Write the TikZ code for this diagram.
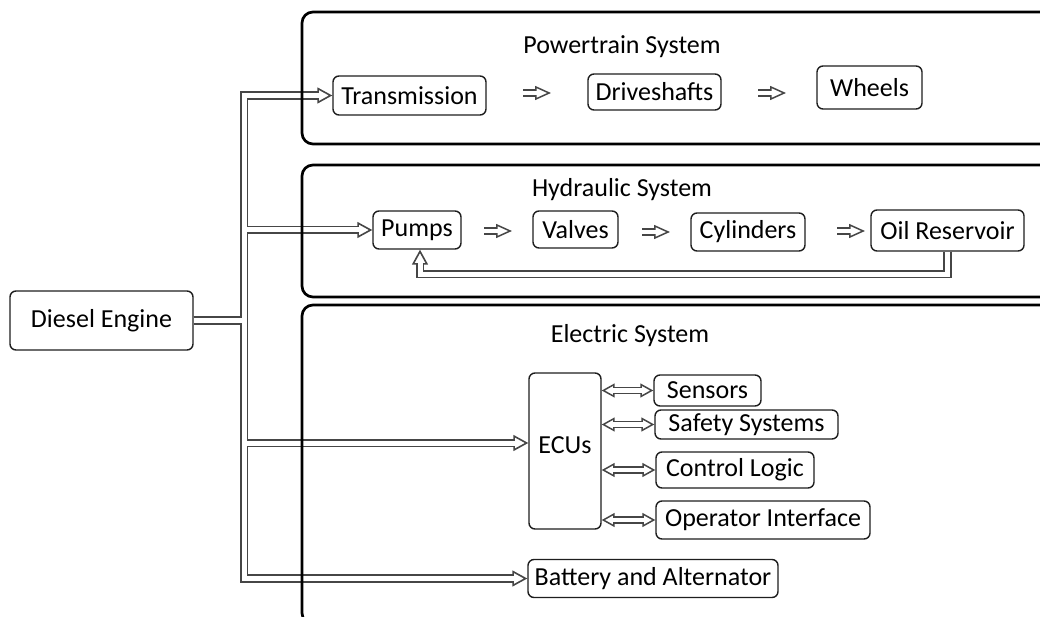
\documentclass[tikz,border=0pt]{standalone}
\usepackage{fontspec}
\setmainfont{Carlito}
\usetikzlibrary{arrows.meta}
\pgfdeclarelayer{pipes}
\pgfdeclarelayer{frames}
\pgfsetlayers{pipes,frames,main}
\definecolor{pipegray}{RGB}{70,70,70}
\definecolor{boxline}{RGB}{30,30,30}
\tikzset{
  blk/.style={draw=boxline, line width=1.4pt, rounded corners=6pt, fill=white, inner sep=0pt, align=center},
  frame/.style={draw=black, line width=2.7pt, rounded corners=11pt},
  ttl/.style={inner sep=0pt},
  bigtip/.tip={Triangle[open, fill=white, length=15pt, width=16pt, line width=1.6pt]},
  midtip/.tip={Triangle[open, fill=white, length=13pt, width=14pt, line width=1.5pt]},
  smtip/.tip={Triangle[open, fill=white, length=16pt, width=14pt, line width=1.5pt]},
  pipeO/.style={draw=pipegray, line width=8.4pt, -bigtip},
  pipeI/.style={draw=white, line width=5pt, shorten >=13pt},
  biO/.style={draw=pipegray, line width=7.4pt, midtip-midtip},
  biI/.style={draw=white, line width=4.2pt, shorten >=11pt, shorten <=11pt},
  smO/.style={draw=pipegray, line width=7.4pt, -smtip},
  smI/.style={draw=white, line width=4.2pt, shorten >=14pt},
}
\newcommand\mainpipes[1]{%
  \draw[#1] (engine.east) -- (tr) |- (trans.west);
  \draw[#1] (engine.east) -- (tr) |- (pumps.west);
  \draw[#1] (engine.east) -- (tr) |- ([yshift=8pt]ecus.west);
  \draw[#1] (engine.east) -- (tr) |- (battery.west);
  \draw[#1] (oil.south) -- ++(0,22.5) -| ([xshift=3pt]pumps.south);
}
\newcommand\ecupipes[1]{%
  \draw[#1] (ecus.east |- sensors.west) -- (sensors.west);
  \draw[#1] (ecus.east |- safety.west) -- (safety.west);
  \draw[#1] (ecus.east |- control.west) -- (control.west);
  \draw[#1] (ecus.east |- operator.west) -- (operator.west);
}
\newcommand\smallpipes[1]{%
  \draw[#1] ([xshift=-14pt]a1) -- ([xshift=14pt]a1);
  \draw[#1] ([xshift=-14pt]a2) -- ([xshift=14pt]a2);
  \draw[#1] ([xshift=-14pt]a3) -- ([xshift=14pt]a3);
  \draw[#1] ([xshift=-14pt]a4) -- ([xshift=14pt]a4);
  \draw[#1] ([xshift=-14pt]a5) -- ([xshift=14pt]a5);
}
\begin{document}
\begin{tikzpicture}[x=1pt,y=-1pt,font=\fontsize{26}{30}\selectfont]
\useasboundingbox (0,0) rectangle (1040,617);

% titles
\node[ttl] (tpow) at (622,47) {Powertrain System};
\node[ttl] (thyd) at (622,190) {Hydraulic System};
\node[ttl] (tele) at (630,336) {Electric System};

% blocks
\node[blk, minimum width=183pt, minimum height=59pt] (engine) at (101.5,320.5) {Diesel Engine};
\node[blk, minimum width=153pt, minimum height=39pt] (trans) at (409.5,95.5) {Transmission};
\node[blk, minimum width=133pt, minimum height=36pt] (drive) at (654.5,92) {Driveshafts};
\node[blk, minimum width=105pt, minimum height=43pt] (wheels) at (869.5,87.5) {Wheels};
\node[blk, minimum width=88pt, minimum height=38pt] (pumps) at (417,230) {Pumps};
\node[blk, minimum width=85pt, minimum height=37pt] (valves) at (575.5,229.5) {Valves};
\node[blk, minimum width=114pt, minimum height=38pt] (cyl) at (748,232) {Cylinders};
\node[blk, minimum width=153pt, minimum height=41pt] (oil) at (947.5,230.5) {Oil Reservoir};
\node[blk, minimum width=72pt, minimum height=156pt, text depth=12pt] (ecus) at (565,451) {ECUs};
\node[blk, minimum width=107pt, minimum height=31pt] (sensors) at (707.5,390.5) {Sensors};
\node[blk, minimum width=183pt, minimum height=29pt] (safety) at (746.5,424.5) {Safety Systems};
\node[blk, minimum width=158pt, minimum height=36pt] (control) at (735,470) {Control Logic};
\node[blk, minimum width=214pt, minimum height=38pt] (operator) at (763,520) {Operator Interface};
\node[blk, minimum width=250pt, minimum height=38pt] (battery) at (653,578.5) {Battery and Alternator};

\coordinate (tr) at (244,320.5);
\coordinate (a1) at (537,93);
\coordinate (a2) at (772,93);
\coordinate (a3) at (498,231);
\coordinate (a4) at (656,232);
\coordinate (a5) at (851,231);

\begin{pgfonlayer}{pipes}
  \mainpipes{pipeO}
  \mainpipes{pipeI}
  \ecupipes{biO}
  \ecupipes{biI}
  \smallpipes{smO}
  \smallpipes{smI}
\end{pgfonlayer}

\begin{pgfonlayer}{frames}
  \draw[frame] (1052,12) -- (302,12) -- (302,144) -- (1052,144);
  \draw[frame] (1052,165) -- (302,165) -- (302,297) -- (1052,297);
  \draw[frame] (1052,305) -- (302,305) -- (302,624) -- (1052,624);
\end{pgfonlayer}
\end{tikzpicture}
\end{document}
